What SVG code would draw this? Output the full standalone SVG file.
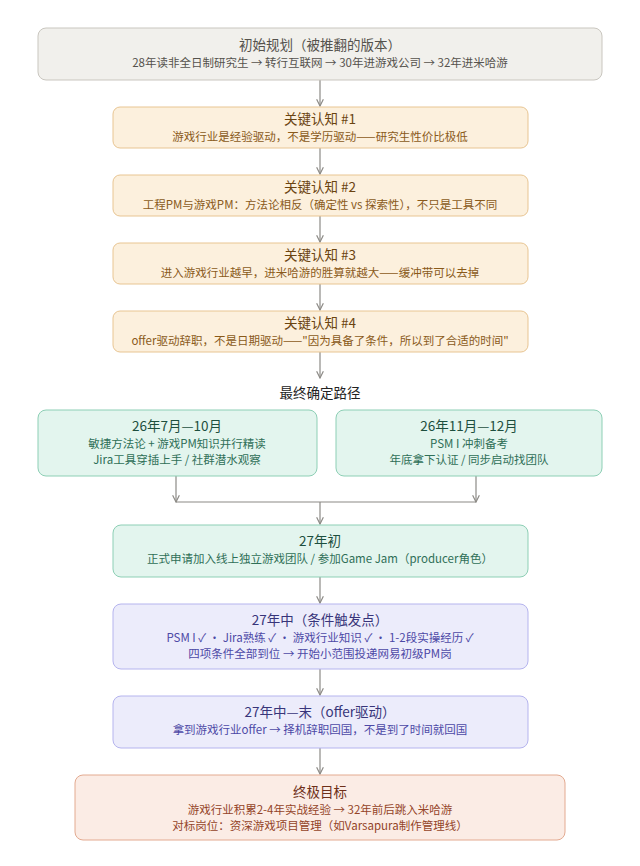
<svg xmlns="http://www.w3.org/2000/svg" width="640" height="866" viewBox="0 0 640 866">
<style>
text{font-family:"Noto Sans CJK SC","Noto Sans",sans-serif;text-anchor:middle}
.t{font-size:13.5px;font-weight:400}
.s{font-size:11.5px}
.g rect{fill:#f1f0ec;stroke:#c9c6bf}.g text{fill:#55524c}
.o rect{fill:#fcf0dd;stroke:#e8c592}.o .t{fill:#6b4410}.o .s{fill:#8a5a1a}
.n rect{fill:#e3f5ee;stroke:#8dcfb5}.n .t{fill:#1d4f3e}.n .s{fill:#2f6f57}
.p rect{fill:#ececfb;stroke:#b5b4ee}.p .t{fill:#38357a}.p .s{fill:#4d49a6}
.r rect{fill:#fbece5;stroke:#e3aa90}.r .t{fill:#6e2f18}.r .s{fill:#944428}
.c{stroke:#8c8a86;stroke-width:1.2;fill:none}
</style>
<defs><marker id="a" viewBox="0 0 10 10" refX="9" refY="5" markerWidth="7" markerHeight="7" orient="auto"><path d="M1 1L9 5L1 9" fill="none" stroke="#8c8a86" stroke-width="1.4"/></marker></defs>
<g id="connectors">
<path class="c" d="M320 80V106" marker-end="url(#a)"/>
<path class="c" d="M320 148V174" marker-end="url(#a)"/>
<path class="c" d="M320 216V242" marker-end="url(#a)"/>
<path class="c" d="M320 284V310" marker-end="url(#a)"/>
<path class="c" d="M320 352V378" marker-end="url(#a)"/>
<path class="c" d="M176 476V502" marker-end="url(#a)"/>
<path class="c" d="M476 476V502" marker-end="url(#a)"/>
<path class="c" d="M176 502H476"/>
<path class="c" d="M320 502V524" marker-end="url(#a)"/>
<path class="c" d="M320 577V603" marker-end="url(#a)"/>
<path class="c" d="M320 669V695" marker-end="url(#a)"/>
<path class="c" d="M320 748V774" marker-end="url(#a)"/>
</g>
<g id="n0" class="g"><rect x="38" y="28" width="564" height="52" rx="8"/><text class="t" x="320" y="50">初始规划（被推翻的版本）</text><text class="s" x="320" y="67">28年读非全日制研究生 → 转行互联网 → 30年进游戏公司 → 32年进米哈游</text></g>
<g id="k1" class="o"><rect x="113" y="107" width="415" height="41" rx="7"/><text class="t" x="320" y="124">关键认知 #1</text><text class="s" x="320" y="141">游戏行业是经验驱动，不是学历驱动——研究生性价比极低</text></g>
<g id="k2" class="o"><rect x="113" y="175" width="415" height="41" rx="7"/><text class="t" x="320" y="192">关键认知 #2</text><text class="s" x="320" y="209">工程PM与游戏PM：方法论相反（确定性 vs 探索性），不只是工具不同</text></g>
<g id="k3" class="o"><rect x="113" y="243" width="415" height="41" rx="7"/><text class="t" x="320" y="260">关键认知 #3</text><text class="s" x="320" y="277">进入游戏行业越早，进米哈游的胜算就越大——缓冲带可以去掉</text></g>
<g id="k4" class="o"><rect x="113" y="311" width="415" height="41" rx="7"/><text class="t" x="320" y="328">关键认知 #4</text><text class="s" x="320" y="345">offer驱动辞职，不是日期驱动——"因为具备了条件，所以到了合适的时间"</text></g>
<g id="label"><text class="t" x="320" y="398" fill="#222">最终确定路径</text></g>
<g id="g1" class="n"><rect x="38" y="410" width="279" height="66" rx="8"/><text class="t" x="177" y="431">26年7月—10月</text><text class="s" x="177" y="448">敏捷方法论 + 游戏PM知识并行精读</text><text class="s" x="177" y="464">Jira工具穿插上手 / 社群潜水观察</text></g>
<g id="g2" class="n"><rect x="336" y="410" width="266" height="66" rx="8"/><text class="t" x="469" y="431">26年11月—12月</text><text class="s" x="469" y="448">PSM I 冲刺备考</text><text class="s" x="469" y="464">年底拿下认证 / 同步启动找团队</text></g>
<g id="g3" class="n"><rect x="113" y="525" width="415" height="52" rx="8"/><text class="t" x="320" y="546">27年初</text><text class="s" x="320" y="563">正式申请加入线上独立游戏团队 / 参加Game Jam（producer角色）</text></g>
<g id="p1" class="p"><rect x="113" y="604" width="415" height="65" rx="8"/><text class="t" x="320" y="625">27年中（条件触发点）</text><text class="s" x="320" y="642">PSM I ✓ · Jira熟练 ✓ · 游戏行业知识 ✓ · 1-2段实操经历 ✓</text><text class="s" x="320" y="658">四项条件全部到位 → 开始小范围投递网易初级PM岗</text></g>
<g id="p2" class="p"><rect x="113" y="696" width="415" height="52" rx="8"/><text class="t" x="320" y="717">27年中—末（offer驱动）</text><text class="s" x="320" y="734">拿到游戏行业offer → 择机辞职回国，不是到了时间就回国</text></g>
<g id="r1" class="r"><rect x="75" y="775" width="490" height="65" rx="8"/><text class="t" x="320" y="797">终极目标</text><text class="s" x="320" y="814">游戏行业积累2-4年实战经验 → 32年前后跳入米哈游</text><text class="s" x="320" y="830">对标岗位：资深游戏项目管理（如Varsapura制作管理线）</text></g>
</svg>
